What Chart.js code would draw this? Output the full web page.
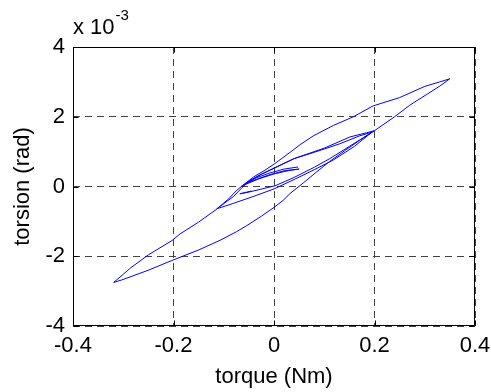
<!DOCTYPE html>
<html>
<head>
<meta charset="utf-8">
<script src="https://cdn.jsdelivr.net/npm/chart.js@4/dist/chart.umd.min.js"></script>
<style>
  html, body { margin: 0; padding: 0; background: #fff; }
  canvas { display: block; }
</style>
</head>
<body>
<canvas id="myChart" width="491" height="392"></canvas>
<script>
// torque (Nm) and torsion (x 10^-3 rad) in drawing order
const torque = [
  -0.045, -0.068, -0.05, 0.002, 0.04, 0.08, 0.111, 0.15, 0.2, 0.24, 0.27, 0.304, 0.33, 0.35,
  0.33, 0.30, 0.25, 0.197, 0.158, 0.118, 0.078, 0.052, 0.032, 0.0, -0.02, -0.04, -0.058, -0.075, -0.09, -0.114,
  -0.15, -0.187, -0.203, -0.25, -0.285, -0.319,
  -0.303, -0.25, -0.203, -0.15, -0.107, -0.075, -0.054, -0.025, 0.0, 0.018, 0.032, 0.058, 0.085, 0.111, 0.14, 0.17, 0.2,
  0.184, 0.151, 0.1, 0.04, 0.0, -0.025, -0.048, -0.06, -0.08, -0.114,
  -0.08, -0.04, 0.0, 0.04, 0.08, 0.118, 0.16, 0.195,
  0.17, 0.13, 0.08, 0.04, 0.0, -0.03, -0.05, -0.065,
  -0.06, -0.03, 0.0, 0.03, 0.05,
  0.02, -0.01, -0.04, -0.055,
  -0.035, -0.01, 0.02, 0.048
];
const torsion = [
  -0.13, -0.21, -0.16, 0.02, 0.26, 0.55, 0.8, 1.15, 1.6, 2.0, 2.33, 2.64, 2.88, 3.09,
  3.0, 2.87, 2.55, 2.31, 2.0, 1.75, 1.45, 1.2, 0.98, 0.64, 0.45, 0.28, 0.08, -0.12, -0.35, -0.65,
  -1.02, -1.36, -1.55, -1.96, -2.33, -2.75,
  -2.68, -2.4, -2.12, -1.82, -1.54, -1.3, -1.12, -0.85, -0.6, -0.4, -0.2, 0.1, 0.42, 0.72, 1.02, 1.32, 1.6,
  1.54, 1.42, 1.1, 0.8, 0.52, 0.35, 0.16, 0.02, -0.28, -0.64,
  -0.48, -0.28, -0.07, 0.2, 0.48, 0.76, 1.15, 1.56,
  1.45, 1.22, 0.98, 0.8, 0.53, 0.32, 0.15, 0.0,
  0.04, 0.22, 0.36, 0.46, 0.5,
  0.45, 0.33, 0.18, 0.1,
  0.25, 0.38, 0.5, 0.56
];
const xTicks = [-0.4, -0.2, 0, 0.2, 0.4];
const yTicks = [-4, -2, 0, 2, 4];

const points = torque.map((t, i) => ({ x: t, y: torsion[i] }));

Chart.defaults.font.family = '"Liberation Sans", Arial, Helvetica, sans-serif';
Chart.defaults.font.size = 22;
Chart.defaults.color = '#000';

// box, inward ticks and the exponent label, matlab style
const frame = {
  id: 'frame',
  afterDraw(chart) {
    const { ctx, chartArea: a, scales } = chart;
    const l = Math.round(a.left) + 0.5, r = Math.round(a.right) - 0.5;
    const t = Math.round(a.top) + 0.5, b = Math.round(a.bottom) - 0.5;
    ctx.save();
    ctx.strokeStyle = '#000';
    ctx.lineWidth = 1;
    ctx.strokeRect(l, t, r - l, b - t);
    ctx.beginPath();
    xTicks.forEach(v => {
      const x = Math.round(scales.x.getPixelForValue(v)) + 0.5;
      ctx.moveTo(x, b); ctx.lineTo(x, b - 5);
      ctx.moveTo(x, t); ctx.lineTo(x, t + 5);
    });
    yTicks.forEach(v => {
      const y = Math.round(scales.y.getPixelForValue(v)) + 0.5;
      ctx.moveTo(l, y); ctx.lineTo(l + 5, y);
      ctx.moveTo(r, y); ctx.lineTo(r - 5, y);
    });
    ctx.stroke();
    ctx.fillStyle = '#000';
    ctx.textBaseline = 'alphabetic';
    ctx.font = '22px "Liberation Sans", Arial, sans-serif';
    ctx.fillText('x 10', a.left, 34);
    const w = ctx.measureText('x 10').width;
    ctx.font = '15px "Liberation Sans", Arial, sans-serif';
    ctx.fillText('-3', a.left + w + 1, 20);
    ctx.restore();
  }
};

new Chart(document.getElementById('myChart'), {
  type: 'scatter',
  data: {
    datasets: [{
      label: 'torsion',
      data: points,
      showLine: true,
      borderColor: '#0000ff',
      borderWidth: 1,
      pointRadius: 0,
      tension: 0
    }]
  },
  options: {
    responsive: false,
    animation: false,
    layout: { padding: { top: 47, right: 16, bottom: 0, left: 0 } },
    plugins: { legend: { display: false }, tooltip: { enabled: false } },
    scales: {
      x: {
        type: 'linear',
        min: -0.4,
        max: 0.4,
        afterBuildTicks: s => { s.ticks = xTicks.map(v => ({ value: v })); },
        afterFit: s => { s.height = 66; s.paddingLeft = 0; s.paddingRight = 0; },
        ticks: { padding: 7, callback: v => String(Math.round(v * 10) / 10) },
        grid: { color: '#444', lineWidth: 1, drawTicks: false },
        border: { display: false, dash: [7, 5] },
        title: { display: true, text: 'torque (Nm)', padding: { top: 0, bottom: 2 } }
      },
      y: {
        type: 'linear',
        min: -4,
        max: 4,
        afterBuildTicks: s => { s.ticks = yTicks.map(v => ({ value: v })); },
        afterFit: s => { s.width = 73; s.paddingTop = 0; s.paddingBottom = 0; },
        ticks: { padding: 8, callback: v => String(v) },
        grid: { color: '#444', lineWidth: 1, drawTicks: false },
        border: { display: false, dash: [7, 5] },
        title: { display: true, text: 'torsion (rad)', padding: { top: 10, bottom: 0 } }
      }
    }
  },
  plugins: [frame]
});
</script>
</body>
</html>
